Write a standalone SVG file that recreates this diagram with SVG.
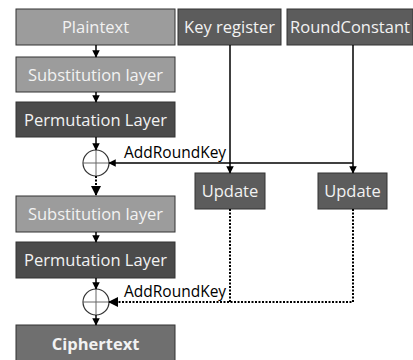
<svg xmlns="http://www.w3.org/2000/svg" width="413" height="360" viewBox="0 0 413 360">
<defs>
<marker id="ah" viewBox="0 0 10 10" refX="9" refY="5" markerWidth="5" markerHeight="5" orient="auto"><path d="M0,0 L10,5 L0,10 z" fill="#000"/></marker>
</defs>
<style>
.box{stroke:#333;stroke-width:1}
.light{fill:#9c9c9c}
.dark{fill:#4b4b4b}
.mid{fill:#5c5c5c}
.ct{fill:#6f6f6f}
.t{font-family:"Open Sans","Noto Sans",sans-serif;font-size:16.5px;fill:#f2f2f2;text-anchor:middle}
.lbl{font-family:"Open Sans","Noto Sans",sans-serif;font-size:15.5px;fill:#000}
.ln{stroke:#000;stroke-width:1.5;fill:none}
.dot{stroke:#000;stroke-width:2;fill:none;stroke-dasharray:2,1.5}
.xor{stroke:#333;stroke-width:1.2;fill:#fff}
.cross{stroke:#666;stroke-width:1}
</style>
<g id="plaintext"><rect class="box light" x="16" y="9" width="159" height="36"/><text class="t" x="95.5" y="33">Plaintext</text></g>
<g id="keyregister"><rect class="box mid" x="178" y="9" width="103" height="36"/><text class="t" x="229.5" y="33">Key register</text></g>
<g id="roundconstant"><rect class="box mid" x="287" y="9" width="126" height="36"/><text class="t" x="350" y="33">RoundConstant</text></g>
<g id="sub1"><rect class="box light" x="16" y="57" width="159" height="35"/><text class="t" x="95.5" y="80.5">Substitution layer</text></g>
<g id="perm1"><rect class="box dark" x="16" y="102" width="159" height="35"/><text class="t" x="95.5" y="125.5">Permutation Layer</text></g>
<g id="xor1"><circle class="xor" cx="96" cy="163" r="13"/><line class="cross" x1="83" y1="163" x2="109" y2="163"/><line class="cross" x1="96" y1="150" x2="96" y2="176"/></g>
<g id="update1"><rect class="box mid" x="195" y="173" width="70" height="36"/><text class="t" x="230" y="197">Update</text></g>
<g id="update2"><rect class="box mid" x="318" y="173" width="69" height="36"/><text class="t" x="352.5" y="197">Update</text></g>
<g id="sub2"><rect class="box light" x="16" y="196" width="159" height="36"/><text class="t" x="95.5" y="220">Substitution layer</text></g>
<g id="perm2"><rect class="box dark" x="16" y="242" width="159" height="36"/><text class="t" x="95.5" y="266">Permutation Layer</text></g>
<g id="xor2"><circle class="xor" cx="96" cy="302" r="13"/><line class="cross" x1="83" y1="302" x2="109" y2="302"/><line class="cross" x1="96" y1="289" x2="96" y2="315"/></g>
<g id="ciphertext"><rect class="box ct" x="16" y="325" width="159" height="40"/><text class="t" x="95.5" y="350" font-weight="bold">Ciphertext</text></g>
<g id="connectors">
<line class="ln" x1="96" y1="45" x2="96" y2="57" marker-end="url(#ah)"/>
<line class="ln" x1="96" y1="92" x2="96" y2="102" marker-end="url(#ah)"/>
<line class="ln" x1="96" y1="137" x2="96" y2="150" marker-end="url(#ah)"/>
<line class="dot" x1="96" y1="176" x2="96" y2="195" marker-end="url(#ah)"/>
<line class="ln" x1="96" y1="232" x2="96" y2="242" marker-end="url(#ah)"/>
<line class="ln" x1="96" y1="278" x2="96" y2="289" marker-end="url(#ah)"/>
<line class="ln" x1="96" y1="315" x2="96" y2="325" marker-end="url(#ah)"/>
<line class="ln" x1="230" y1="45" x2="230" y2="173" marker-end="url(#ah)"/>
<line class="ln" x1="353" y1="45" x2="353" y2="173" marker-end="url(#ah)"/>
<polyline class="ln" points="353,163 109,163" marker-end="url(#ah)"/>
<polyline class="dot" points="230,209 230,302"/>
<polyline class="dot" points="353,209 353,302 109,302" marker-end="url(#ah)"/>
<text class="lbl" x="124" y="158">AddRoundKey</text>
<text class="lbl" x="124" y="297">AddRoundKey</text>
</g>
</svg>
